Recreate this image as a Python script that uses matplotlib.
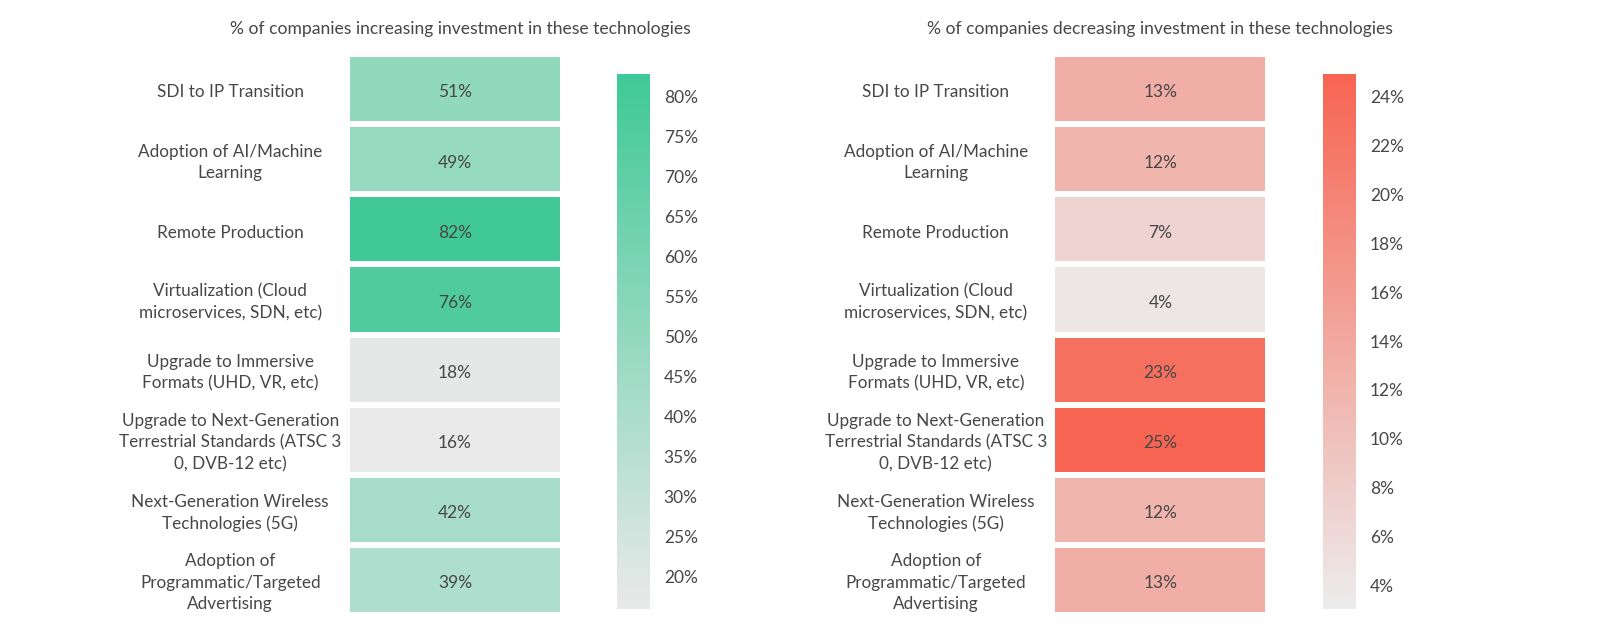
import numpy as np
import matplotlib.pyplot as plt
from matplotlib.colors import LinearSegmentedColormap, Normalize
from matplotlib.cm import ScalarMappable
from matplotlib.ticker import FuncFormatter
import matplotlib.transforms as mtransforms

plt.rcParams['font.family'] = ['Lato', 'DejaVu Sans']

# Data
technologies = [
    "SDI to IP Transition",
    "Adoption of AI/Machine\nLearning",
    "Remote Production",
    "Virtualization (Cloud\nmicroservices, SDN, etc)",
    "Upgrade to Immersive\nFormats (UHD, VR, etc)",
    "Upgrade to Next-Generation\nTerrestrial Standards (ATSC 3\n0, DVB-12 etc)",
    "Next-Generation Wireless\nTechnologies (5G)",
    "Adoption of\nProgrammatic/Targeted\nAdvertising",
]
increasing = [51, 49, 82, 76, 18, 16, 42, 39]
decreasing = [13, 12, 7, 4, 23, 25, 12, 13]

title_inc = "% of companies increasing investment in these technologies"
title_dec = "% of companies decreasing investment in these technologies"

text_color = '#474747'
green_cmap = LinearSegmentedColormap.from_list('grn', ['#e9e9e9', '#3fc898'])
red_cmap = LinearSegmentedColormap.from_list('red', ['#ececec', '#f76452'])

fig = plt.figure(figsize=(16, 6.39), dpi=100)


def draw_panel(ax_pos, cax_pos, values, cmap, vmin, vmax, ticks, title, title_x):
    ax = fig.add_axes(ax_pos)
    data = np.array(values, dtype=float).reshape(-1, 1)
    norm = Normalize(vmin=vmin, vmax=vmax)
    ax.pcolormesh(data, cmap=cmap, norm=norm,
                  edgecolors='white', linewidth=3)
    ax.set_xlim(0, 1)
    ax.set_ylim(len(values), 0)
    ax.set_xticks([])
    ax.set_yticks([])
    for s in ax.spines.values():
        s.set_visible(False)

    # small downward nudge so text sits like the original
    dy = 0.045
    for i, v in enumerate(values):
        ax.text(0.5, i + 0.5 + dy, f"{v}%", ha='center', va='center',
                fontsize=12.5, color=text_color)

    trans = mtransforms.blended_transform_factory(ax.transAxes, ax.transData)
    for i, lab in enumerate(technologies):
        ax.text(-0.54, i + 0.5 + dy, lab, ha='center', va='center', fontsize=12.3,
                color=text_color, transform=trans, linespacing=1.42,
                multialignment='center')

    cax = fig.add_axes(cax_pos)
    cb = fig.colorbar(ScalarMappable(norm=norm, cmap=cmap), cax=cax, ticks=ticks)
    cb.outline.set_visible(False)
    cb.ax.tick_params(length=0, pad=10, labelsize=12.5, labelcolor=text_color)
    cb.ax.yaxis.set_major_formatter(FuncFormatter(lambda x, p: f"{x:.0f}%"))

    fig.text(title_x, 0.955, title, ha='center', va='center',
             fontsize=12.6, color=text_color)


draw_panel([0.2168, 0.038, 0.135, 0.877], [0.3856, 0.047, 0.0206, 0.837],
           increasing, green_cmap, 15.9, 82.8,
           list(range(20, 85, 5)), title_inc, 0.2875)
draw_panel([0.6578, 0.038, 0.135, 0.877], [0.827, 0.047, 0.0206, 0.837],
           decreasing, red_cmap, 3.04, 24.92,
           list(range(4, 26, 2)), title_dec, 0.725)

fig.savefig('out.png', dpi=100, facecolor='white')
